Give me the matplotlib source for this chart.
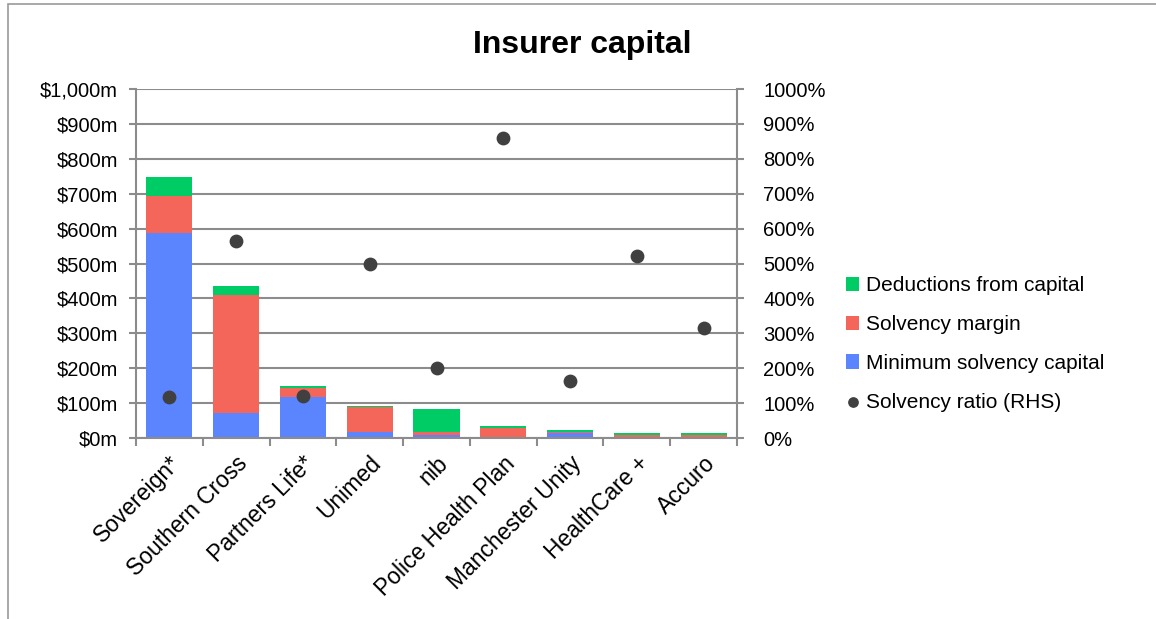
import matplotlib.pyplot as plt
import numpy as np
from matplotlib.patches import Rectangle

plt.rcParams['font.family'] = ['Liberation Sans', 'DejaVu Sans']

insurers = ["Sovereign*", "Southern Cross", "Partners Life*", "Unimed", "nib",
            "Police Health Plan", "Manchester Unity", "HealthCare +", "Accuro"]
min_capital = [587, 72, 118, 18, 8, 0, 13, 0, 0]
margin = [106, 338, 26, 70, 10, 28, 5, 8, 8]
deductions = [55, 25, 5, 5, 65, 6, 5, 5, 5]
ratio = [117, 564, 121, 500, 201, 859, 163, 521, 315]

c_green = "#00CC66"
c_red = "#F4665A"
c_blue = "#5B84FF"
c_dot = "#404040"
c_grid = "#8C8C8C"

fig = plt.figure(figsize=(11.56, 6.19), dpi=100)
# outer chart frame (right and bottom edges fall outside the picture)
fig.patches.append(Rectangle((8 / 1156, -0.05), 1.1, 1 - 4 / 619 + 0.05,
                             transform=fig.transFigure, fill=False,
                             edgecolor="#9A9A9A", linewidth=1.2))
ax = fig.add_axes([0.1176, 0.2924, 0.52, 0.5638])
ax2 = ax.twinx()

x = np.arange(len(insurers))
w = 0.69
b1 = ax.bar(x, min_capital, w, color=c_blue, label="Minimum solvency capital", zorder=3)
b2 = ax.bar(x, margin, w, bottom=min_capital, color=c_red, label="Solvency margin", zorder=3)
bottom2 = np.array(min_capital) + np.array(margin)
b3 = ax.bar(x, deductions, w, bottom=bottom2, color=c_green, label="Deductions from capital", zorder=3)

ax2.scatter(x, ratio, s=80, color=c_dot, zorder=5, label="Solvency ratio (RHS)")

ax.set_xlim(-0.5, len(insurers) - 0.5)
ax.set_ylim(0, 1000)
ax2.set_ylim(0, 1000)
ax.set_yticks(np.arange(0, 1001, 100))
ax.set_yticklabels(["$0m"] + ["${:,}m".format(v) for v in range(100, 1001, 100)])
ax2.set_yticks(np.arange(0, 1001, 100))
ax2.set_yticklabels(["{}%".format(v) for v in range(0, 1001, 100)])

ax.yaxis.grid(True, color=c_grid, linewidth=1.5, zorder=0)
ax.set_axisbelow(True)

ax.set_xticks(x)
ax.set_xticklabels(insurers, rotation=45, ha="right", rotation_mode="anchor")
ax.tick_params(axis="x", length=0, pad=10)
ax.set_xticks(np.arange(-0.5, len(insurers)), minor=True)
ax.tick_params(axis="x", which="minor", length=6, color=c_grid, width=1.5)

for a in (ax, ax2):
    for s in a.spines.values():
        s.set_visible(False)
    a.tick_params(axis="y", length=5, color=c_grid, width=1.5, labelsize=14.5)
ax.tick_params(axis="x", labelsize=16.5)
for side in ("left", "right", "bottom"):
    ax2.spines[side].set_visible(True)
    ax2.spines[side].set_color(c_grid)
    ax2.spines[side].set_linewidth(1.5)
ax.tick_params(axis="y", pad=8)
ax2.tick_params(axis="y", pad=14)

fig.text(0.504, 0.927, "Insurer capital", ha="center", va="center",
         fontsize=23, fontweight="bold")

handles = [b3, b2, b1, ax2.collections[0]]
labels = [h.get_label() for h in handles]
fig.legend(handles, labels, loc="center left", bbox_to_anchor=(0.716, 0.444),
           frameon=False, fontsize=15, handlelength=0.6, handletextpad=0.35,
           labelspacing=0.95, markerscale=0.75)

fig.savefig("out.png", dpi=100)
